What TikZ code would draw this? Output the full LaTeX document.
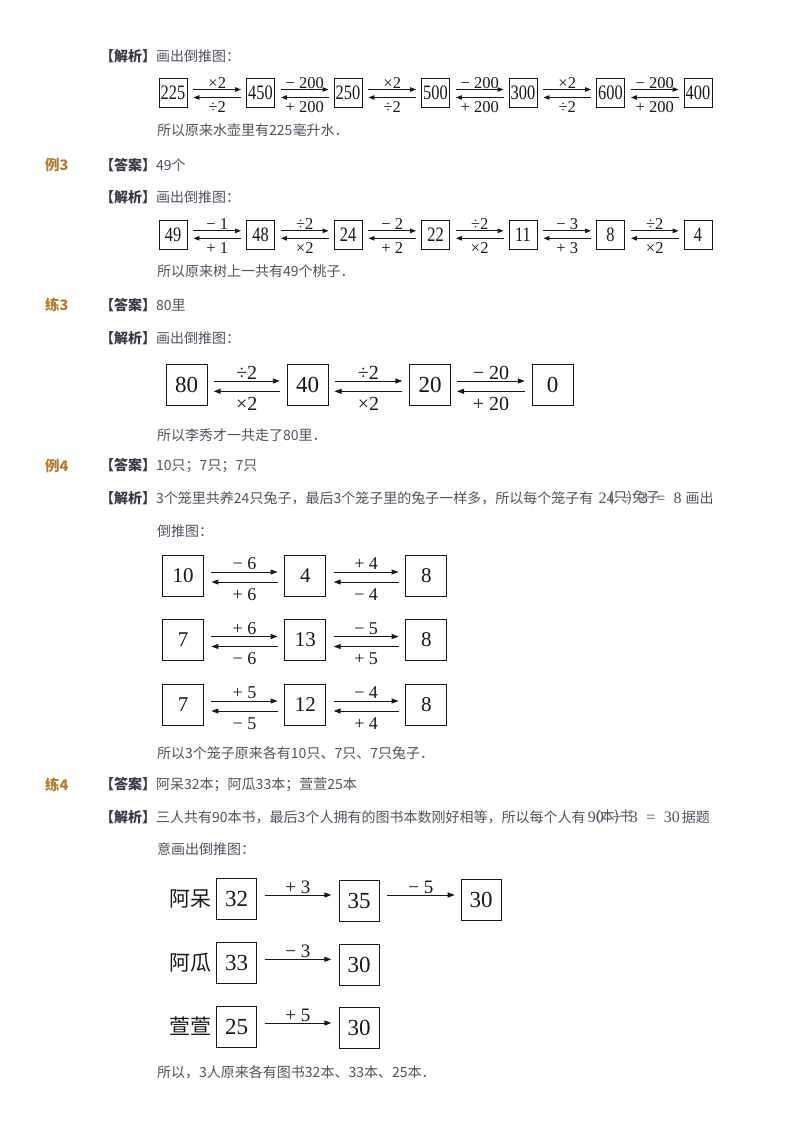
\documentclass[tikz,border=0pt]{standalone}
\usepackage{fontspec}
\setmainfont{Noto Sans CJK SC}
\newfontfamily\tms{Liberation Serif}
\usetikzlibrary{arrows.meta,calc}
\definecolor{txt}{RGB}{82,82,98}
\definecolor{hdc}{RGB}{58,58,72}
\definecolor{gold}{RGB}{178,126,44}
\definecolor{ink}{RGB}{25,25,25}
\newcommand{\hdb}{\color{hdc}\bfseries}
\newcommand{\pr}[4]{%
  \draw[fwd] ($(#1.east)+(\sa,\ua)$) -- ($(#2.west)+(-\sb,\ua)$) node[midway,lu]{#3};
  \draw[bwd] ($(#1.east)+(\sa,\da)$) -- ($(#2.west)+(-\sb,\da)$) node[midway,ld]{#4};}
\tikzset{
  body/.style={anchor=west, inner sep=0pt, text=txt, font=\fontsize{14}{16}\selectfont},
  tag/.style={anchor=west, inner sep=0pt, text=gold, font=\fontsize{14.5}{16}\selectfont\bfseries},
  ser/.style={anchor=base west, inner sep=0pt, text=txt, font=\tms\fontsize{16}{16}\selectfont},
  sbox/.style={draw=ink, line width=0.9pt, inner sep=0pt, minimum width=28pt, minimum height=29pt, text=ink, font=\tms\fontsize{20.5}{20.5}\selectfont},
  bbox/.style={draw=ink, line width=1pt, inner sep=0pt, minimum width=41pt, minimum height=41pt, text=ink, font=\tms\fontsize{22}{22}\selectfont},
  fwd/.style={draw=ink, line width=0.9pt, -{Triangle[length=6pt,width=4.5pt]}},
  bwd/.style={draw=ink, line width=0.9pt, {Triangle[length=6pt,width=4.5pt]}-},
}
\begin{document}
\begin{tikzpicture}[x=1pt,y=-1pt]
\fill[white] (0,0) rectangle (800,1133);
\path[use as bounding box] (0,0) rectangle (800,1133);

% ---------- top section ----------
\node[body] (t1) at (100,56) {{\hdb【解析】}画出倒推图：};
\begin{scope}[lu/.style={anchor=base, yshift=1pt, inner sep=0pt, text=ink, font=\tms\fontsize{16.5}{16.5}\selectfont},
              ld/.style={anchor=base, yshift=-15pt, inner sep=0pt, text=ink, font=\tms\fontsize{16.5}{16.5}\selectfont}]
\def\sa{6}\def\sb{5}\def\ua{-3.5}\def\da{4.5}
\foreach \n/\v [count=\i from 0] in {a/225,b/450,c/250,d/500,e/300,f/600,g/400}
  \node[sbox] (r1\n) at ({173+87.5*\i},93) {\scalebox{0.8}[1]{\v}};
\pr{r1a}{r1b}{×2}{÷2}
\pr{r1b}{r1c}{− 200}{+ 200}
\pr{r1c}{r1d}{×2}{÷2}
\pr{r1d}{r1e}{− 200}{+ 200}
\pr{r1e}{r1f}{×2}{÷2}
\pr{r1f}{r1g}{− 200}{+ 200}
\end{scope}
\node[body] (t2) at (157,130) {所以原来水壶里有225毫升水．};

% ---------- 例3 ----------
\node[tag] (l3) at (45,165) {例3};
\node[body] (a3) at (100,165) {{\hdb【答案】}49个};
\node[body] (j3) at (100,197) {{\hdb【解析】}画出倒推图：};
\begin{scope}[lu/.style={anchor=base, yshift=1pt, inner sep=0pt, text=ink, font=\tms\fontsize{16.5}{16.5}\selectfont},
              ld/.style={anchor=base, yshift=-15pt, inner sep=0pt, text=ink, font=\tms\fontsize{16.5}{16.5}\selectfont}]
\def\sa{6}\def\sb{5}\def\ua{-3.7}\def\da{3.8}
\foreach \n/\v [count=\i from 0] in {a/49,b/48,c/24,d/22,e/11,f/8,g/4}
  \node[sbox] (r2\n) at ({173+87.5*\i},234.5) {\scalebox{0.8}[1]{\v}};
\pr{r2a}{r2b}{− 1}{+ 1}
\pr{r2b}{r2c}{÷2}{×2}
\pr{r2c}{r2d}{− 2}{+ 2}
\pr{r2d}{r2e}{÷2}{×2}
\pr{r2e}{r2f}{− 3}{+ 3}
\pr{r2f}{r2g}{÷2}{×2}
\end{scope}
\node[body] (t3) at (157,271) {所以原来树上一共有49个桃子．};

% ---------- 练3 ----------
\node[tag] (l3b) at (45,305) {练3};
\node[body] (a3b) at (100,305) {{\hdb【答案】}80里};
\node[body] (j3b) at (100,338) {{\hdb【解析】}画出倒推图：};
\begin{scope}[lu/.style={anchor=base, yshift=1.3pt, inner sep=0pt, text=ink, font=\tms\fontsize{20}{20}\selectfont},
              ld/.style={anchor=base, yshift=-19pt, inner sep=0pt, text=ink, font=\tms\fontsize{20}{20}\selectfont},
              fwd/.style={draw=ink, line width=1pt, -{Triangle[length=7pt,width=5pt]}},
              bwd/.style={draw=ink, line width=1pt, {Triangle[length=7pt,width=5pt]}-},
              bbox/.append style={font=\tms\fontsize{23}{23}\selectfont}]
\def\sa{6}\def\sb{6.7}\def\ua{-4}\def\da{6.3}
\node[bbox] (q1) at (186.7,385) {80};
\node[bbox] (q2) at (307.5,385) {40};
\node[bbox] (q3) at (430,385) {20};
\node[bbox] (q4) at (552.5,385) {0};
\pr{q1}{q2}{÷2}{×2}
\pr{q2}{q3}{÷2}{×2}
\pr{q3}{q4}{− 20}{+ 20}
\end{scope}
\node[body] (t4) at (157,435) {所以李秀才一共走了80里．};

% ---------- 例4 ----------
\node[tag] (l4) at (45,466) {例4};
\node[body] (a4) at (100,466) {{\hdb【答案】}10只；7只；7只};
\node[body] (p4a) at (100,498) {{\hdb【解析】}3个笼里共养24只兔子，最后3个笼子里的兔子一样多，所以每个笼子有};
\node[ser] (p4b) at ($(p4a.base east)+(5,0)$) {\makebox[83pt][s]{24\hfill÷\hfill3\hfill=\hfill8}};
\node[body] (p4c) at ($(p4a.east)+(15,0)$) {(只)兔子};
\node[body] (p4d) at ($(p4a.east)+(92,0)$) {画出};
\node[body] (p4e) at (157,531) {倒推图：};
\begin{scope}[lu/.style={anchor=base, yshift=2.5pt, inner sep=0pt, text=ink, font=\tms\fontsize{18}{18}\selectfont},
              ld/.style={anchor=base, yshift=-18.3pt, inner sep=0pt, text=ink, font=\tms\fontsize{18}{18}\selectfont},
              fwd/.style={draw=ink, line width=1pt, -{Triangle[length=7pt,width=5pt]}},
              bwd/.style={draw=ink, line width=1pt, {Triangle[length=7pt,width=5pt]}-},
              bbox/.append style={font=\tms\fontsize{21}{21}\selectfont}]
\def\sa{7.4}\def\sb{6.7}\def\ua{-3.5}\def\da{6.5}
\node[bbox] (u1) at (183,575.5) {10};
\node[bbox] (u2) at (305.3,575.5) {4};
\node[bbox] (u3) at (426.3,575.5) {8};
\pr{u1}{u2}{− 6}{+ 6}
\pr{u2}{u3}{+ 4}{− 4}
\node[bbox] (v1) at (183,640) {7};
\node[bbox] (v2) at (305.3,640) {13};
\node[bbox] (v3) at (426.3,640) {8};
\pr{v1}{v2}{+ 6}{− 6}
\pr{v2}{v3}{− 5}{+ 5}
\node[bbox] (w1) at (183,704.5) {7};
\node[bbox] (w2) at (305.3,704.5) {12};
\node[bbox] (w3) at (426.3,704.5) {8};
\pr{w1}{w2}{+ 5}{− 5}
\pr{w2}{w3}{− 4}{+ 4}
\end{scope}
\node[body] (t5) at (157,753) {所以3个笼子原来各有10只、7只、7只兔子．};

% ---------- 练4 ----------
\node[tag] (l4b) at (45,785) {练4};
\node[body] (a4b) at (100,785) {{\hdb【答案】}阿呆32本；阿瓜33本；萱萱25本};
\node[body] (p5a) at (100,817) {{\hdb【解析】}三人共有90本书，最后3个人拥有的图书本数刚好相等，所以每个人有};
\node[ser] (p5b) at ($(p5a.base east)+(2,0)$) {\makebox[92pt][s]{90\hfill÷\hfill3\hfill=\hfill30}};
\node[body] (p5c) at ($(p5a.east)+(10,0)$) {(本)书};
\node[body] (p5d) at ($(p5a.east)+(96,0)$) {据题};
\node[body] (p5e) at (157,849) {意画出倒推图：};
\begin{scope}[lu/.style={anchor=base, yshift=2pt, inner sep=0pt, text=ink, font=\tms\fontsize{19}{19}\selectfont},
              fwd/.style={draw=ink, line width=1pt, -{Triangle[length=7pt,width=5pt]}},
              nm/.style={anchor=east, inner sep=0pt, text=ink, font=\fontsize{21}{21}\selectfont},
              bbox/.append style={minimum width=40pt, font=\tms\fontsize{23}{23}\selectfont}]
\node[bbox] (x1) at (236.7,898.5) {32};
\node[bbox] (x2) at (359.2,900.5) {35};
\node[bbox] (x3) at (481.2,900) {30};
\node[nm] (n1) at ($(x1.west)+(-5,0)$) {阿呆};
\draw[fwd] ($(x1.east)+(7.3,-3.5)$) -- ($(x2.west)+(-7.3,-5.5)$) node[midway,lu]{+ 3};
\draw[fwd] ($(x2.east)+(7.3,-5.5)$) -- ($(x3.west)+(-6,-5)$) node[midway,lu]{− 5};
\node[bbox] (y1) at (236.7,963) {33};
\node[bbox] (y2) at (359.2,964.5) {30};
\node[nm] (n2) at ($(y1.west)+(-5,0)$) {阿瓜};
\draw[fwd] ($(y1.east)+(7.3,-3.7)$) -- ($(y2.west)+(-7.3,-5.2)$) node[midway,lu]{− 3};
\node[bbox] (z1) at (236.7,1026.5) {25};
\node[bbox] (z2) at (359.2,1028) {30};
\node[nm] (n3) at ($(z1.west)+(-5,0)$) {萱萱};
\draw[fwd] ($(z1.east)+(7.3,-3.5)$) -- ($(z2.west)+(-7.3,-5)$) node[midway,lu]{+ 5};
\end{scope}
\node[body] (t6) at (157,1072) {所以，3人原来各有图书32本、33本、25本．};
\end{tikzpicture}
\end{document}
